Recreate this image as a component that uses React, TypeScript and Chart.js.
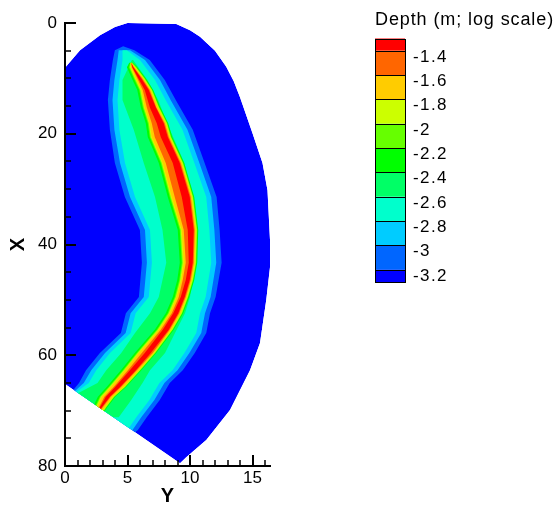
import React, { useEffect, useRef } from 'react';
import { Chart, registerables } from 'chart.js';

Chart.register(...registerables);

// ---------- axes ----------
const H_TICKS = [0, 1, 2, 3, 4, 5, 6, 7, 8, 9, 10, 11, 12, 13, 14, 15, 16];
const H_LABELLED = [0, 5, 10, 15];
const V_TICKS = [0, 5, 10, 15, 20, 25, 30, 35, 40, 45, 50, 55, 60, 65, 70, 75, 80];
const V_LABELLED = [0, 20, 40, 60, 80];
const H_TITLE = 'Y';
const V_TITLE = 'X';

// ---------- legend ----------
const LEGEND_TITLE = 'Depth (m; log scale)';
const LEGEND_LEVELS = ['-1.4', '-1.6', '-1.8', '-2', '-2.2', '-2.4', '-2.6', '-2.8', '-3', '-3.2'];
const LEGEND_COLORS = ['#FF0000', '#FF6600', '#FFCC00', '#CCFF00', '#66FF00', '#00FF00', '#00FF66', '#00FFCC', '#00CCFF', '#0066FF', '#0000FF'];

// ---------- computational domain (Y, X) ----------
const DOMAIN_Y = [0, 1.2, 2.8, 4.0, 5.0, 8.9, 10.0, 10.8, 12.0, 12.9, 13.5, 14.0, 15.0, 15.8, 16.2, 16.4, 16.4, 16.1, 15.6, 14.8, 13.2, 11.3, 9.7, 9.2, 0];
const DOMAIN_X = [8.1, 4.9, 2.2, 0.7, 0, 0.2, 1.3, 2.5, 5.0, 7.9, 10.5, 13.4, 19.9, 25.3, 30.2, 39.2, 44.1, 50.0, 57.8, 62.7, 69.9, 75.3, 78.4, 79.5, 65.2];

// ---------- outer contour bands: left/right Y at stations X ----------
const OUTER_X = [4.2, 4.9, 6.7, 10.3, 13.9, 19.3, 25.3, 31.4, 37.4, 43.3, 49.5, 52.4, 56.0, 59.6, 62.7, 65.0, 68.1, 71.2, 73.5, 75.0];
const L32_LEFT = [4.65, 3.99, 3.83, 3.59, 3.43, 3.59, 3.99, 4.79, 5.99, 6.15, 5.91, 4.87, 4.47, 2.79, 1.68, 1.12, 0, 0, 0, 0];
const L32_RIGHT = [4.65, 5.55, 6.78, 7.98, 8.86, 10.22, 11.17, 12.13, 12.37, 12.53, 12.05, 11.6, 11.3, 10.38, 9.42, 8.38, 7.58, 6.54, 5.83, 5.0];
const L30_LEFT = [null, 4.3, 4.2, 3.95, 3.8, 3.95, 4.4, 5.2, 6.4, 6.55, 6.3, 5.25, 4.85, 3.2, 2.1, 1.5, 0, 0, 0, 0];
const L30_RIGHT = [null, 5.2, 6.4, 7.6, 8.45, 9.8, 10.75, 11.7, 11.95, 12.1, 11.65, 11.2, 10.9, 9.95, 9.0, 7.95, 7.15, 6.1, 5.4, 4.6];
const L28_LEFT = [null, 4.6, 4.6, 4.35, 4.2, 4.35, 4.8, 5.6, 6.8, 6.95, 6.7, 5.65, 5.25, 3.6, 2.5, 1.9, 0, 0, 0, 0];
const L28_RIGHT = [null, 4.95, 6.0, 7.2, 8.05, 9.4, 10.35, 11.3, 11.55, 11.7, 11.25, 10.8, 10.5, 9.55, 8.6, 7.55, 6.75, 5.7, 5.0, 4.2];
const L26_LEFT = [null, null, 5.35, 4.6, 4.6, 5.5, 6.3, 7.2, 7.8, 8.1, 7.5, 6.8, 5.6, 4.5, 3.3, 2.6, 0, 0, null, null];
const L26_RIGHT = [null, null, 5.45, 6.6, 7.45, 8.4, 9.55, 10.2, 10.55, 10.5, 10.0, 9.6, 8.8, 8.0, 6.8, 6.2, 5.3, 4.3, null, null];

// ---------- channel core: centre line and left/right widths per level ----------
const CORE_X = [7.2, 8.0, 10.0, 12.1, 15.2, 18.1, 20.6, 25.3, 31.4, 37.4, 43.3, 46.4, 49.5, 52.4, 55.4, 59.6, 62.7, 65.7, 67.5, 69.4, 71.5];
const CORE_Y = [5.3, 5.43, 5.99, 6.54, 7.02, 7.58, 7.9, 8.86, 9.58, 10.06, 10.06, 9.82, 9.42, 8.86, 8.06, 6.62, 5.43, 4.23, 3.43, 2.87, 2.25];
const L24_L = [0.16, 0.48, 0.64, 0.76, 0.96, 1.12, 1.28, 1.36, 1.36, 1.04, 0.88, 0.84, 0.8, 0.8, 0.88, 1.04, 0.96, 0.88, 0.8, 0.64, 0.64];
const L24_R = [0.12, 0.36, 0.48, 0.52, 0.6, 0.68, 0.68, 0.68, 0.76, 0.6, 0.52, 0.52, 0.52, 0.6, 0.64, 0.68, 0.68, 0.68, 0.6, 0.52, 0.52];
const L22_L = [0.08, 0.32, 0.48, 0.6, 0.8, 0.96, 1.12, 1.2, 1.2, 0.88, 0.72, 0.68, 0.64, 0.64, 0.72, 0.88, 0.8, 0.72, 0.64, 0.48, 0.48];
const L22_R = [0.08, 0.28, 0.4, 0.44, 0.52, 0.6, 0.6, 0.6, 0.68, 0.52, 0.44, 0.44, 0.44, 0.52, 0.56, 0.6, 0.6, 0.6, 0.52, 0.44, 0.44];
const L20_L = [0.04, 0.24, 0.4, 0.52, 0.72, 0.88, 1.04, 1.12, 1.12, 0.8, 0.64, 0.6, 0.56, 0.56, 0.64, 0.8, 0.72, 0.64, 0.56, 0.4, 0.4];
const L20_R = [0.04, 0.24, 0.36, 0.4, 0.48, 0.56, 0.56, 0.56, 0.64, 0.48, 0.4, 0.4, 0.4, 0.48, 0.52, 0.56, 0.56, 0.56, 0.48, 0.4, 0.4];
const L18_L = [0, 0.16, 0.32, 0.44, 0.64, 0.8, 0.96, 1.04, 1.04, 0.72, 0.56, 0.52, 0.48, 0.48, 0.56, 0.72, 0.64, 0.56, 0.48, 0.32, 0.32];
const L18_R = [0, 0.16, 0.28, 0.32, 0.4, 0.48, 0.48, 0.48, 0.56, 0.4, 0.32, 0.32, 0.32, 0.4, 0.44, 0.48, 0.48, 0.48, 0.4, 0.32, 0.32];
const L16_L = [0, 0.08, 0.2, 0.32, 0.48, 0.64, 0.72, 0.8, 0.8, 0.56, 0.4, 0.4, 0.32, 0.32, 0.4, 0.48, 0.4, 0.32, 0.28, 0.16, 0.16];
const L16_R = [0, 0.08, 0.2, 0.24, 0.28, 0.4, 0.4, 0.4, 0.48, 0.32, 0.24, 0.24, 0.24, 0.28, 0.32, 0.4, 0.32, 0.28, 0.24, 0.16, 0.16];
const L14_L = [0, 0.04, 0.12, 0.16, 0.24, 0.24, 0.24, 0.24, 0.24, 0.24, 0.16, 0.16, 0.16, 0.2, 0.24, 0.24, 0.24, 0.2, 0.16, 0.08, 0.08];
const L14_R = [0, 0.04, 0.12, 0.16, 0.24, 0.32, 0.32, 0.32, 0.4, 0.24, 0.16, 0.16, 0.16, 0.2, 0.24, 0.24, 0.24, 0.2, 0.16, 0.08, 0.08];

const FONT = '"Liberation Sans", Arial, Helvetica, sans-serif';

type Pt = { x: number; y: number };

function bandPolygon(xs: number[], left: (number | null)[], right: (number | null)[]): Pt[] {
  const l: Pt[] = [];
  const r: Pt[] = [];
  xs.forEach((xv, i) => {
    if (left[i] !== null && right[i] !== null) {
      l.push({ x: left[i] as number, y: xv });
      r.push({ x: right[i] as number, y: xv });
    }
  });
  return [...l, ...r.reverse()];
}

function corePolygon(offL: number[], offR: number[]): Pt[] {
  const left = CORE_Y.map((c, i) => c - offL[i]);
  const right = CORE_Y.map((c, i) => c + offR[i]);
  return bandPolygon(CORE_X, left, right);
}

function tracePath(ctx: CanvasRenderingContext2D, pts: { x: number; y: number }[]) {
  ctx.beginPath();
  pts.forEach((p, i) => (i ? ctx.lineTo(p.x, p.y) : ctx.moveTo(p.x, p.y)));
  ctx.closePath();
}

const polygonFill = {
  id: 'polygonFill',
  beforeDatasetsDraw(chart: any) {
    const meta = chart.getDatasetMeta(0);
    const ctx = chart.ctx;
    ctx.save();
    tracePath(ctx, meta.data);
    ctx.clip();
  },
  beforeDatasetDraw(chart: any, args: any) {
    const ds = chart.data.datasets[args.index];
    const pts = args.meta.data;
    if (!pts.length) return;
    const ctx = chart.ctx;
    ctx.save();
    tracePath(ctx, pts);
    ctx.fillStyle = ds.backgroundColor;
    ctx.fill();
    ctx.restore();
  },
  afterDatasetsDraw(chart: any) {
    chart.ctx.restore();
  },
};

const inwardTicks = {
  id: 'inwardTicks',
  afterDraw(chart: any) {
    const { ctx, chartArea: a, scales } = chart;
    ctx.save();
    ctx.strokeStyle = '#000';
    V_TICKS.forEach((v) => {
      const major = V_LABELLED.includes(v);
      const py = Math.round(scales.y.getPixelForValue(v));
      ctx.lineWidth = major ? 2 : 1.5;
      ctx.beginPath();
      ctx.moveTo(a.left, py);
      ctx.lineTo(a.left + (major ? 11 : 6), py);
      ctx.stroke();
    });
    H_TICKS.forEach((v) => {
      const major = H_LABELLED.includes(v);
      const px = Math.round(scales.x.getPixelForValue(v));
      ctx.lineWidth = major ? 2 : 1.5;
      ctx.beginPath();
      ctx.moveTo(px, a.bottom);
      ctx.lineTo(px, a.bottom - (major ? 11 : 6));
      ctx.stroke();
    });
    ctx.restore();
  },
};

const colorBar = {
  id: 'colorBar',
  afterDraw(chart: any) {
    const ctx = chart.ctx as CanvasRenderingContext2D;
    const left = 375;
    const w = 30;
    const top = 38.5;
    const step = 24.35;
    ctx.save();
    ctx.fillStyle = '#000';
    ctx.textAlign = 'left';
    ctx.textBaseline = 'alphabetic';
    ctx.font = `18px ${FONT}`;
    (ctx as any).letterSpacing = '0.9px';
    ctx.fillText(LEGEND_TITLE, left, 25);
    let y0 = top;
    const n = LEGEND_COLORS.length;
    const rects: [number, number][] = [];
    LEGEND_COLORS.forEach((c, i) => {
      const h = i === 0 || i === n - 1 ? step / 2 : step;
      ctx.fillStyle = c;
      ctx.fillRect(left, y0, w, h);
      rects.push([y0, h]);
      y0 += h;
    });
    ctx.strokeStyle = '#000';
    ctx.lineWidth = 1;
    rects.forEach(([yy, h]) => {
      ctx.strokeRect(left + 0.5, Math.round(yy) + 0.5, w, Math.round(yy + h) - Math.round(yy));
    });
    ctx.fillStyle = '#000';
    ctx.font = `17px ${FONT}`;
    (ctx as any).letterSpacing = '1.4px';
    LEGEND_LEVELS.forEach((lab, i) => {
      const b = top + step / 2 + i * step;
      ctx.fillText(lab, 413, b + 11);
    });
    ctx.restore();
  },
};

export default function App() {
  const ref = useRef<HTMLCanvasElement>(null);
  useEffect(() => {
    if (!ref.current) return;
    Chart.defaults.font.family = FONT;
    const mk = (label: string, data: Pt[], color: string, order: number) => ({
      label,
      data,
      backgroundColor: color,
      borderColor: 'rgba(0,0,0,0)',
      showLine: false,
      pointRadius: 0,
      pointHoverRadius: 0,
      order,
    });
    const domain = DOMAIN_Y.map((v, i) => ({ x: v, y: DOMAIN_X[i] }));
    const datasets = [
      mk('domain', domain, LEGEND_COLORS[10], 20),
      mk('-3.2', bandPolygon(OUTER_X, L32_LEFT, L32_RIGHT), LEGEND_COLORS[9], 10),
      mk('-3', bandPolygon(OUTER_X, L30_LEFT, L30_RIGHT), LEGEND_COLORS[8], 9),
      mk('-2.8', bandPolygon(OUTER_X, L28_LEFT, L28_RIGHT), LEGEND_COLORS[7], 8),
      mk('-2.6', bandPolygon(OUTER_X, L26_LEFT, L26_RIGHT), LEGEND_COLORS[6], 7),
      mk('-2.4', corePolygon(L24_L, L24_R), LEGEND_COLORS[5], 6),
      mk('-2.2', corePolygon(L22_L, L22_R), LEGEND_COLORS[4], 5),
      mk('-2', corePolygon(L20_L, L20_R), LEGEND_COLORS[3], 4),
      mk('-1.8', corePolygon(L18_L, L18_R), LEGEND_COLORS[2], 3),
      mk('-1.6', corePolygon(L16_L, L16_R), LEGEND_COLORS[1], 2),
      mk('-1.4', corePolygon(L14_L, L14_R), LEGEND_COLORS[0], 1),
    ];
    const chart = new Chart(ref.current, {
      type: 'scatter',
      data: { datasets } as any,
      plugins: [polygonFill, inwardTicks, colorBar],
      options: {
        animation: false,
        responsive: false,
        devicePixelRatio: 1,
        events: [],
        layout: { padding: { left: 0, top: 23, right: 287, bottom: 0 } },
        plugins: { legend: { display: false }, tooltip: { enabled: false } },
        scales: {
          x: {
            type: 'linear',
            position: 'bottom',
            min: 0,
            max: 16.4,
            afterBuildTicks: (s: any) => {
              s.ticks = H_TICKS.map((v) => ({ value: v }));
            },
            afterFit: (s: any) => {
              s.height = 40;
            },
            ticks: {
              autoSkip: false,
              maxRotation: 0,
              minRotation: 0,
              padding: 2,
              color: '#000',
              font: { size: 17, family: FONT },
              callback: (v: any) => (H_LABELLED.includes(Number(v)) ? String(v) : ''),
            },
            grid: { display: false, drawTicks: false, z: 1 },
            border: { display: true, color: '#000', width: 2, z: 1 } as any,
            title: {
              display: true,
              text: H_TITLE,
              color: '#000',
              font: { size: 20, weight: 'bold', family: FONT, lineHeight: 1 },
              padding: { top: 0, bottom: 0 },
            },
          },
          y: {
            type: 'linear',
            position: 'left',
            reverse: true,
            min: 0,
            max: 80,
            afterBuildTicks: (s: any) => {
              s.ticks = V_TICKS.map((v) => ({ value: v }));
            },
            afterFit: (s: any) => {
              s.width = 65;
            },
            ticks: {
              autoSkip: false,
              padding: 8,
              color: '#000',
              font: { size: 17, family: FONT },
              callback: (v: any) => (V_LABELLED.includes(Number(v)) ? String(v) : ''),
            },
            grid: { display: false, drawTicks: false, z: 1 },
            border: { display: true, color: '#000', width: 2, z: 1 } as any,
            title: {
              display: true,
              text: V_TITLE,
              color: '#000',
              font: { size: 20, weight: 'bold', family: FONT, lineHeight: 1 },
              padding: { top: 8, bottom: 0 },
            },
          },
        },
      } as any,
    });
    return () => chart.destroy();
  }, []);
  return (
    <div style={{ position: 'absolute', left: 0, top: 0, width: 557, height: 506, background: '#fff' }}>
      <canvas ref={ref} width={557} height={506} style={{ display: 'block' }} />
    </div>
  );
}
